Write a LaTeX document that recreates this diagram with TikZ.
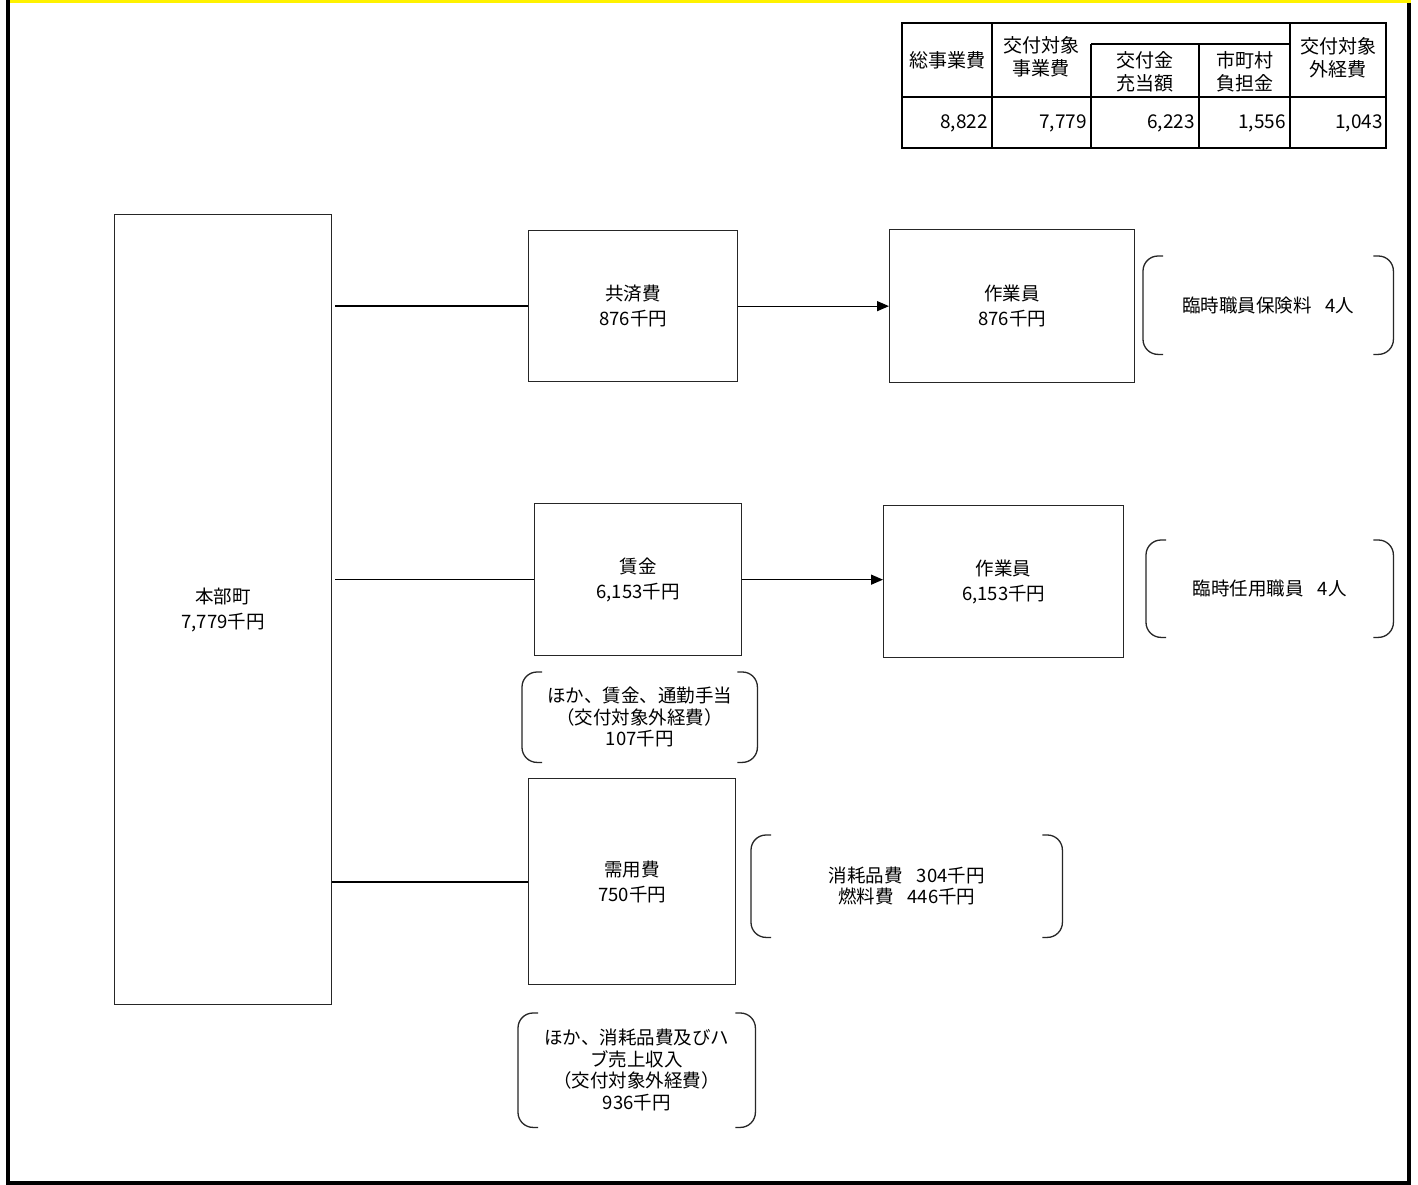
\documentclass[tikz,border=0pt]{standalone}
\usepackage{fontspec}
\setmainfont{Noto Sans CJK JP}
\usetikzlibrary{arrows.meta}
\begin{document}
\begin{tikzpicture}[x=1pt,y=-1pt,
 box/.style={draw=black!85, line width=1.3pt, anchor=north west, inner sep=0pt, align=center, font=\fontsize{18.5}{25}\selectfont},
 brk/.style={anchor=north west, inner sep=0pt, align=center, font=\fontsize{18.5}{21.5}\selectfont},
 brline/.style={line width=1.3pt, rounded corners=15pt, black!85},
 conn/.style={line width=1.8pt},
 conn2/.style={line width=1.3pt},
 arr/.style={line width=1.3pt, -{Triangle[length=12pt,width=10pt]}},
 tline/.style={line width=1.8pt},
 tcell/.style={inner sep=0pt, align=center, font=\fontsize{19}{23}\selectfont},
 tnum/.style={inner sep=0pt, anchor=east, font=\fontsize{19}{20}\selectfont}]

\useasboundingbox (0,0) rectangle (1418,1185);
\fill[white] (0,0) rectangle (1418,1185);

% outer frame
\draw[line width=3.5pt] (8,0) -- (8,1183) -- (1409,1183) -- (1409,0);
\draw[yellow, line width=3pt] (10,1.5) -- (1411,1.5);

% table
\draw[tline] (902,23) rectangle (1386,148);
\draw[tline] (902,97) -- (1386,97);
\draw[tline] (992,23) -- (992,148);
\draw[tline] (1091,44) -- (1091,148);
\draw[tline] (1199,44) -- (1199,148);
\draw[tline] (1290,23) -- (1290,148);
\draw[tline] (1091,44) -- (1290,44);

\node[tcell] (h1) at (947,60) {総事業費};
\node[tcell] (h2) at (1041,57) {交付対象\\事業費};
\node[tcell] (h3) at (1145,72) {交付金\\充当額};
\node[tcell] (h4) at (1245,72) {市町村\\負担金};
\node[tcell] (h5) at (1338,58) {交付対象\\外経費};

\node[tnum] (v1) at (988,123) {8,822};
\node[tnum] (v2) at (1087,123) {7,779};
\node[tnum] (v3) at (1195,123) {6,223};
\node[tnum] (v4) at (1286,123) {1,556};
\node[tnum] (v5) at (1383,123) {1,043};

% boxes
\node[box, minimum width=217pt, minimum height=790pt] (honbu) at (114,214) {本部町\\7,779千円};
\node[box, minimum width=209pt, minimum height=151pt] (kyosai) at (528,230) {共済費\\876千円};
\node[box, minimum width=245pt, minimum height=153pt] (sagyo1) at (889,229) {作業員\\876千円};
\node[box, minimum width=207pt, minimum height=152pt] (chin) at (534,503) {賃金\\6,153千円};
\node[box, minimum width=240pt, minimum height=152pt] (sagyo2) at (883,505) {作業員\\6,153千円};
\node[box, minimum width=207pt, minimum height=206pt] (juyo) at (528,778) {需用費\\750千円};

% bracket nodes
\node[brk, minimum width=250pt, minimum height=98pt] (b1) at (1143,256) {臨時職員保険料\hspace{14pt}4人};
\node[brk, minimum width=247pt, minimum height=97pt] (b2) at (1146,540) {臨時任用職員\hspace{14pt}4人};
\node[brk, minimum width=235pt, minimum height=90pt] (b3) at (522,672) {ほか、賃金、通勤手当\\（交付対象外経費）\\107千円};
\node[brk, minimum width=311pt, minimum height=102pt] (b4) at (751,835) {消耗品費\hspace{14pt}304千円\\燃料費\hspace{14pt}446千円};
\node[brk, minimum width=237pt, minimum height=114pt] (b5) at (518,1013) {ほか、消耗品費及びハ\\ブ売上収入\\（交付対象外経費）\\936千円};

\foreach \n in {b1,b2,b3,b4,b5} {
  \draw[brline] ([xshift=20pt]\n.north west) -- (\n.north west) -- (\n.south west) -- ([xshift=20pt]\n.south west);
  \draw[brline] ([xshift=-20pt]\n.north east) -- (\n.north east) -- (\n.south east) -- ([xshift=-20pt]\n.south east);
}

% connectors
\draw[conn] ([xshift=3pt]honbu.east |- kyosai.west) -- (kyosai.west);
\draw[conn2] ([xshift=3pt]honbu.east |- chin.west) -- (chin.west);
\draw[conn] (honbu.east |- juyo.west) -- (juyo.west);
\draw[arr] (kyosai.east) -- (sagyo1.west |- kyosai.east);
\draw[arr] (chin.east) -- (sagyo2.west |- chin.east);
\end{tikzpicture}
\end{document}
